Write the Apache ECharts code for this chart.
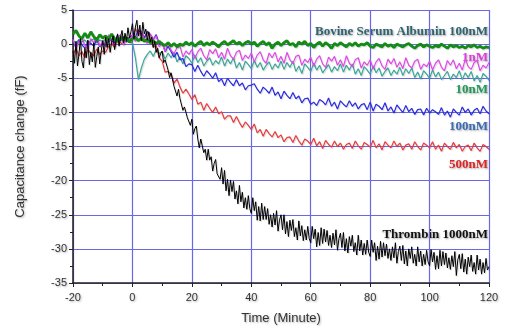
<!DOCTYPE html>
<html>
<head>
<meta charset="utf-8">
<script src="https://cdn.jsdelivr.net/npm/echarts@6/dist/echarts.min.js"></script>
<style>
  html, body { margin: 0; padding: 0; background: #fff; }
  #chart { width: 506px; height: 330px; }
</style>
</head>
<body>
<div id="chart"></div>
<script>
// time axis runs -20 .. 120 minutes
// 1 minute step series (141 values each)
const bsa100 = [
  1.5, 2.0, 1.2, 0.8, 1.6, 0.9, 1.8, 1.1, 0.6, 1.4, 0.9,
  1.2, 0.7, 1.5, 0.8, 0.4, 1.0, 0.6, 0.9, 0.3, 0.8,
  1.0, 0.5, 0.9, 0.4, 0.7, 0.2, 0.5, 0.1, 0.4, 0.0,
  -0.2, 0.2, -0.3, 0.1, -0.4, 0.0, -0.2, 0.3, -0.1, 0.2,
  -0.3, 0.1, 0.4, -0.2, 0.2, -0.1, 0.3, 0.0, -0.4, 0.1,
  0.4, -0.1, 0.2, 0.5, 0.0, 0.3, -0.2, 0.2, 0.4, 0.0,
  0.3, -0.3, 0.1, 0.4, -0.1, 0.2, -0.6, 0.0, 0.3, -0.2,
  0.2, 0.5, -0.1, 0.1, -0.4, 0.3, 0.0, 0.4, -0.2, 0.1,
  -0.5, 0.0, 0.3, -0.3, 0.2, -0.1, -0.6, 0.1, -0.2, 0.2,
  -0.1, -0.4, 0.1, -0.2, 0.2, -0.3, 0.0, -0.1, 0.2, -0.3,
  -0.5, 0.0, -0.2, -0.4, 0.1, -0.3, -0.1, -0.5, 0.0, -0.2,
  -0.4, -0.1, 0.1, -0.3, -0.6, -0.2, 0.0, -0.4, -0.1, -0.3,
  -0.5, -0.2, -0.4, 0.0, -0.3, -0.6, -0.1, -0.4, -0.2, -0.5,
  -0.3, -0.6, -0.2, -0.4, -0.1, -0.5, -0.3, -0.6, -0.4, -0.5
];
const nm1 = [
  0.7, -0.6, 0.4, 0.9, -0.2, -0.7, 0.8, 0.2, 1.0, -0.3, 0.5,
  -0.3, 1.4, 0.3, -0.1, 1.0, 1.4, -0.1, 0.9, 0.5, 1.4,
  0.4, 1.4, 1.9, 0.7, 0.1, 1.5, 0.7, 1.2, -0.4, 0.1,
  -1.1, 0.3, -0.9, -1.4, -0.5, -0.3, -1.9, -1.0, -1.5, -0.8,
  -2.1, -1.1, -0.6, -1.7, -2.3, -0.8, -1.4, -0.7, -2.0, -1.2,
  -2.2, -0.6, -1.7, -2.2, -1.2, -0.9, -2.4, -1.6, -2.1, -1.3,
  -2.6, -1.6, -1.1, -2.3, -2.8, -1.3, -2.0, -1.2, -2.6, -1.8,
  -2.8, -1.2, -2.3, -2.8, -1.8, -1.6, -3.1, -2.2, -2.7, -1.9,
  -3.2, -2.2, -1.7, -2.9, -3.4, -1.9, -2.5, -1.8, -3.1, -2.3,
  -3.3, -1.7, -2.8, -3.3, -2.3, -2.0, -3.5, -2.6, -3.1, -2.3,
  -3.6, -2.6, -2.1, -3.2, -3.7, -2.2, -2.9, -2.1, -3.4, -2.6,
  -3.6, -2.0, -3.1, -3.5, -2.5, -2.2, -3.7, -2.9, -3.3, -2.5,
  -3.8, -2.8, -2.3, -3.4, -3.9, -2.4, -3.1, -2.3, -3.6, -2.8,
  -3.8, -2.2, -3.3, -3.7, -2.7, -2.4, -3.9, -3.1, -3.5, -2.7
];
const nm10 = [
  0.5, 0.2, 0.7, 0.3, 0.6, 0.1, 0.5, 0.8, 0.2, 0.6, 0.4,
  0.7, 0.3, 0.8, 0.4, 0.6, 0.9, 0.5, 0.8, 0.3, 0.2,
  -2.0, -5.2, -3.5, -2.2, -1.5, -1.0, -1.8, -0.8, -1.4, -1.1,
  -2.2, -1.3, -2.0, -1.2, -2.6, -1.9, -2.9, -1.7, -2.1, -2.8,
  -1.6, -2.7, -2.0, -3.2, -2.5, -2.0, -3.1, -2.4, -2.9, -1.9,
  -3.2, -2.2, -2.9, -2.0, -3.5, -2.7, -3.8, -2.5, -3.0, -3.6,
  -2.4, -3.4, -2.7, -3.8, -3.1, -2.6, -3.7, -2.9, -3.5, -2.5,
  -3.7, -2.7, -3.4, -2.5, -4.0, -3.2, -4.3, -2.9, -3.4, -4.0,
  -2.8, -3.8, -3.1, -4.2, -3.6, -3.0, -4.1, -3.3, -3.9, -2.9,
  -4.1, -3.1, -3.8, -2.9, -4.4, -3.6, -4.6, -3.3, -3.8, -4.4,
  -3.2, -4.2, -3.5, -4.7, -4.0, -3.5, -4.6, -3.8, -4.4, -3.4,
  -4.6, -3.6, -4.3, -3.5, -4.9, -4.1, -5.1, -3.9, -4.4, -5.0,
  -3.8, -4.8, -4.1, -5.2, -4.6, -4.0, -5.2, -4.4, -4.9, -3.9,
  -5.2, -4.2, -4.9, -4.0, -5.4, -4.6, -5.6, -4.3, -4.7, -5.3
];
const nm100 = [
  0.3, -0.5, 0.6, -0.1, -0.6, 0.4, 0.1, -0.3, 0.7, -0.4, 0.2,
  -0.3, 1.0, 0.5, 0.2, 1.3, 0.5, 1.1, 0.3, 1.0, 1.3,
  1.0, 2.1, 1.5, 0.9, 1.9, 1.4, 0.7, 1.4, 0.0, 0.2,
  -1.1, -0.3, -1.1, -1.9, -1.2, -2.3, -2.1, -3.3, -2.9, -3.0,
  -4.0, -3.1, -4.0, -4.7, -3.9, -4.4, -5.0, -4.2, -5.5, -5.1,
  -6.1, -5.0, -5.6, -6.1, -5.2, -6.1, -5.7, -6.7, -6.1, -6.0,
  -5.8, -6.6, -7.2, -6.3, -6.7, -7.2, -6.3, -7.5, -7.0, -8.0,
  -6.9, -7.5, -8.0, -7.1, -8.0, -7.6, -8.6, -8.0, -7.9, -8.8,
  -8.5, -9.0, -8.1, -8.4, -8.9, -7.9, -9.1, -8.5, -9.5, -8.3,
  -8.8, -9.2, -8.3, -9.1, -8.6, -9.5, -8.9, -8.7, -9.6, -8.5,
  -9.8, -8.8, -9.1, -9.6, -8.6, -9.8, -9.2, -10.1, -8.9, -9.5,
  -10.0, -9.0, -9.9, -9.4, -10.3, -9.6, -9.5, -10.4, -9.4, -10.1,
  -9.6, -9.9, -10.3, -9.3, -10.4, -9.8, -10.7, -9.5, -10.0, -10.4,
  -9.2, -10.0, -9.5, -10.4, -9.7, -9.4, -10.2, -9.1, -9.8, -10.2
];
const nm500 = [
  -1.6, -0.6, -1.7, -1.1, -2.0, -0.8, -1.3, -1.7, -0.7, -1.5, -1.0,
  -1.2, -0.3, 0.1, -0.5, 0.8, 0.2, -0.1, 1.0, 0.9, 0.7,
  2.3, 1.3, 1.9, 0.9, 1.8, 0.8, -0.4, -0.2, -2.0, -2.5,
  -4.1, -4.0, -4.4, -5.7, -5.1, -6.3, -7.2, -6.6, -7.3, -8.1,
  -7.4, -8.8, -8.5, -9.7, -8.7, -9.4, -10.0, -9.2, -10.2, -9.9,
  -11.0, -10.5, -10.5, -11.5, -10.6, -11.5, -12.2, -11.4, -11.9, -12.5,
  -11.7, -13.0, -12.5, -13.5, -12.5, -13.1, -13.6, -12.8, -13.7, -13.3,
  -14.3, -13.7, -13.6, -14.4, -13.4, -14.2, -14.8, -13.9, -14.2, -14.7,
  -13.8, -14.9, -14.3, -15.3, -14.1, -14.7, -15.1, -14.2, -15.0, -14.5,
  -15.4, -14.7, -14.5, -15.3, -14.2, -14.9, -15.4, -14.4, -14.7, -15.1,
  -14.1, -15.2, -14.6, -15.5, -14.3, -14.8, -15.2, -14.2, -15.0, -14.5,
  -15.5, -14.8, -14.6, -15.4, -14.3, -15.0, -15.5, -14.5, -14.8, -15.2,
  -14.3, -15.4, -14.8, -15.7, -14.5, -15.0, -15.4, -14.4, -15.2, -14.7,
  -15.7, -15.0, -14.8, -15.6, -14.5, -15.2, -15.7, -14.7, -15.0, -15.4
];
// half minute step (281 values)
const thrombin1000 = [
  -1.0, -2.8, 0.4, -3.2, -1.5, 0.8, -2.5, -3.5, -0.6, -2.0,
  0.6, -3.0, -1.2, -2.6, 0.2, -3.4, -1.8, -0.4, -2.9, -1.0,
  0.5, -1.5, 1.0, -0.5, 0.8, -1.2, 0.3, 1.2, -0.8, 0.6,
  1.5, -0.3, 1.0, 2.0, 0.2, 1.6, 0.5, 2.4, 0.9, 1.8,
  3.0, 0.8, 2.5, 3.5, 1.2, 2.8, 0.5, 3.2, 1.5, 2.2,
  0.6, 1.8, 0.3, 1.0, -0.5, 0.4, -1.2, -0.6, -2.0, -1.4,
  -1.0, -2.7, -2.3, -2.2, -3.8, -4.9, -4.2, -4.4, -6.2, -6.1,
  -7.6, -6.6, -8.0, -8.0, -9.7, -9.2, -9.0, -10.8, -11.0, -11.9,
  -11.0, -13.2, -12.4, -12.0, -13.9, -15.2, -13.9, -13.9, -15.9, -15.4,
  -17.0, -15.4, -17.0, -16.5, -18.6, -17.5, -16.9, -19.0, -18.8, -19.8,
  -18.1, -20.5, -18.5, -21.5, -19.8, -22.2, -19.9, -21.6, -20.1, -22.7,
  -21.5, -23.4, -20.7, -23.1, -21.7, -24.0, -22.5, -24.2, -22.2, -24.1,
  -24.8, -22.5, -24.4, -23.1, -25.8, -23.8, -25.9, -23.3, -25.7, -23.8,
  -25.7, -24.1, -26.4, -25.0, -26.8, -24.8, -26.5, -24.4, -27.4, -25.8,
  -25.0, -27.2, -25.0, -27.8, -26.0, -28.2, -25.8, -27.3, -25.7, -28.2,
  -26.9, -28.7, -25.9, -28.1, -26.6, -28.8, -27.2, -28.7, -26.7, -28.5,
  -29.1, -26.7, -28.5, -27.1, -29.7, -27.6, -29.5, -26.9, -29.2, -27.1,
  -29.0, -27.3, -29.5, -28.0, -29.8, -27.7, -29.4, -27.2, -30.2, -28.5,
  -27.7, -29.8, -27.6, -30.3, -28.5, -30.6, -28.2, -29.6, -28.0, -30.4,
  -29.1, -30.9, -28.0, -30.3, -28.7, -30.9, -29.2, -30.8, -28.7, -30.5,
  -31.1, -28.7, -30.5, -29.1, -31.7, -29.6, -31.5, -28.9, -31.2, -29.1,
  -31.0, -29.3, -31.4, -30.0, -31.7, -29.7, -31.3, -29.1, -32.1, -30.4,
  -29.6, -31.7, -29.5, -32.2, -30.3, -32.5, -30.0, -31.4, -29.7, -32.1,
  -30.8, -32.5, -29.7, -31.9, -30.3, -32.5, -30.8, -32.3, -30.2, -31.9,
  -32.5, -30.1, -31.9, -30.5, -33.0, -31.0, -32.9, -30.2, -32.5, -30.4,
  -32.3, -30.6, -32.8, -31.3, -33.0, -31.0, -32.6, -30.4, -33.9, -31.6,
  -30.8, -32.9, -30.7, -33.4, -31.5, -33.7, -31.2, -32.6, -30.9, -33.3,
  -32.0, -33.7, -30.9, -33.1, -31.5, -33.7, -32.0, -33.5, -31.4, -33.1,
  -32.6
];

const labelTexts = ['Bovine Serum Albumin 100nM', '1nM', '10nM', '100nM', '500nM', 'Thrombin 1000nM'];
const labelColors = ['#2f6470', '#e03ce0', '#1f9a5a', '#3a6cb4', '#e02424', '#111'];
const labelTops = [25, 51, 83, 120, 158, 228];

function pairs(values, start, step) {
  return values.map((v, i) => [start + i * step, v]);
}

const chart = echarts.init(document.getElementById('chart'));
const gridColor = '#6868e4';
const tickFont = { fontFamily: 'Liberation Sans', fontSize: 11, color: '#333',
  textShadowColor: 'rgba(0,0,0,0.3)', textShadowBlur: 2, textShadowOffsetX: 1, textShadowOffsetY: 1 };

const lineSeries = (name, data, color, width) => ({
  type: 'line',
  name: name,
  data: data,
  showSymbol: false,
  symbol: 'none',
  animation: false,
  silent: true,
  lineStyle: { color: color, width: width, shadowColor: 'rgba(0,0,0,0.15)', shadowBlur: 1, shadowOffsetX: 1, shadowOffsetY: 1 }
});

chart.setOption({
  backgroundColor: '#fff',
  animation: false,
  grid: { left: 73, right: 17, top: 10, bottom: 42 },
  xAxis: {
    type: 'value',
    min: -20,
    max: 120,
    interval: 20,
    name: 'Time (Minute)',
    nameLocation: 'middle',
    nameGap: 29,
    nameTextStyle: Object.assign({}, tickFont, { fontSize: 13 }),
    axisLine: { onZero: false, lineStyle: { color: '#222', width: 1.5 } },
    axisTick: { show: true, length: 4, lineStyle: { color: '#222' } },
    minorTick: { show: true, splitNumber: 2, length: 3, lineStyle: { color: '#222' } },
    axisLabel: Object.assign({ margin: 9 }, tickFont),
    splitLine: { show: true, lineStyle: { color: gridColor, width: 1.2 } }
  },
  yAxis: {
    type: 'value',
    min: -35,
    max: 5,
    interval: 5,
    name: 'Capacitance change (fF)',
    nameLocation: 'middle',
    nameGap: 46,
    nameTextStyle: Object.assign({}, tickFont, { fontSize: 13 }),
    axisLine: { show: true, onZero: false, lineStyle: { color: '#222', width: 1.5 } },
    axisTick: { show: true, length: 4, lineStyle: { color: '#222' } },
    minorTick: { show: true, splitNumber: 2, length: 3, lineStyle: { color: '#222' } },
    axisLabel: Object.assign({ margin: 6 }, tickFont),
    splitLine: { show: true, lineStyle: { color: gridColor, width: 1.2 } }
  },
  graphic: labelTexts.map((text, i) => ({
    type: 'text',
    right: 18,
    top: labelTops[i],
    silent: true,
    style: {
      text: text,
      fill: labelColors[i],
      font: 'bold 13px "Liberation Serif"',
      textShadowColor: 'rgba(0,0,0,0.35)',
      textShadowBlur: 2,
      textShadowOffsetX: 1,
      textShadowOffsetY: 1
    }
  })),
  series: [
    lineSeries('10nM', pairs(nm10, -20, 1), '#3aa79a', 1.2),
    lineSeries('500nM', pairs(nm500, -20, 1), '#ea3a3a', 1.2),
    lineSeries('100nM', pairs(nm100, -20, 1), '#2a2ae0', 1.2),
    lineSeries('1nM', pairs(nm1, -20, 1), '#e048e8', 1.2),
    lineSeries('Bovine Serum Albumin 100nM', pairs(bsa100, -20, 1), '#138c13', 2.8),
    lineSeries('Thrombin 1000nM', pairs(thrombin1000, -20, 0.5), '#000', 1)
  ]
});
</script>
</body>
</html>
